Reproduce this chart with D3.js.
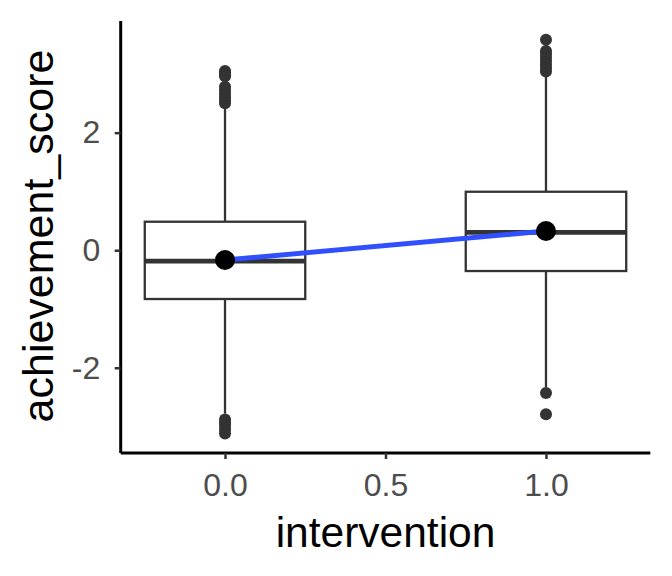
<html>
<head>
<meta charset="utf-8">
<script src="https://cdn.jsdelivr.net/npm/d3@7"></script>
<style>
  body { margin: 0; background: #fff; }
  text { font-family: "Liberation Sans", Arial, sans-serif; }
</style>
</head>
<body>
<script>

// data
var groups     = [0, 1];
var q1         = [-0.83, -0.354];
var medians    = [-0.184, 0.305];
var q3         = [0.485, 0.995];
var whiskLow   = [-2.78, -2.33];
var whiskHigh  = [2.47, 2.99];
var means      = [-0.167, 0.327];
var outliers0  = [3.05, 3.02, 2.99, 2.96, 2.78, 2.72, 2.66, 2.60, 2.55, 2.50, -2.88, -2.93, -2.98, -3.05, -3.12];
var outliers1  = [3.58, 3.39, 3.34, 3.28, 3.22, 3.16, 3.10, 3.04, -2.43, -2.79];
var xTicks     = [0, 0.5, 1];
var yTicks     = [-2, 0, 2];

// view
var W = 672, H = 576;
var BOX_W = 0.5;

var svg = d3.select("body").append("svg")
  .attr("width", W)
  .attr("height", H);

var x = d3.scaleLinear().domain([-0.325, 1.325]).range([120.7, 650.3]);
var y = d3.scaleLinear().domain([-3.45, 3.90]).range([453, 21]);

var boxes = groups.map(function(g, i) {
  return { g: g, q1: q1[i], med: medians[i], q3: q3[i],
           lo: whiskLow[i], hi: whiskHigh[i], mean: means[i],
           out: i == 0 ? outliers0 : outliers1 };
});

// whiskers
svg.selectAll("line.whisk-up")
  .data(boxes).enter().append("line")
  .attr("x1", function(d) { return x(d.g); })
  .attr("x2", function(d) { return x(d.g); })
  .attr("y1", function(d) { return y(d.q3); })
  .attr("y2", function(d) { return y(d.hi); })
  .attr("stroke", "#333").attr("stroke-width", 2.3);

svg.selectAll("line.whisk-down")
  .data(boxes).enter().append("line")
  .attr("x1", function(d) { return x(d.g); })
  .attr("x2", function(d) { return x(d.g); })
  .attr("y1", function(d) { return y(d.q1); })
  .attr("y2", function(d) { return y(d.lo); })
  .attr("stroke", "#333").attr("stroke-width", 2.3);

// outliers
boxes.forEach(function(b) {
  svg.selectAll(null)
    .data(b.out).enter().append("circle")
    .attr("cx", x(b.g))
    .attr("cy", function(v) { return y(v); })
    .attr("r", 6)
    .attr("fill", "#333");
});

// boxes
svg.selectAll("rect.box")
  .data(boxes).enter().append("rect")
  .attr("x", function(d) { return x(d.g - BOX_W / 2); })
  .attr("width", function(d) { return x(d.g + BOX_W / 2) - x(d.g - BOX_W / 2); })
  .attr("y", function(d) { return y(d.q3); })
  .attr("height", function(d) { return y(d.q1) - y(d.q3); })
  .attr("fill", "#fff")
  .attr("stroke", "#333").attr("stroke-width", 2.3);

svg.selectAll("line.median")
  .data(boxes).enter().append("line")
  .attr("x1", function(d) { return x(d.g - BOX_W / 2); })
  .attr("x2", function(d) { return x(d.g + BOX_W / 2); })
  .attr("y1", function(d) { return y(d.med); })
  .attr("y2", function(d) { return y(d.med); })
  .attr("stroke", "#333").attr("stroke-width", 4.7);

// mean line + points
svg.append("path")
  .datum(boxes)
  .attr("d", d3.line()
    .x(function(d) { return x(d.g); })
    .y(function(d) { return y(d.mean); }))
  .attr("fill", "none")
  .attr("stroke", "#3050FF")
  .attr("stroke-width", 5);

svg.selectAll("circle.mean")
  .data(boxes).enter().append("circle")
  .attr("cx", function(d) { return x(d.g); })
  .attr("cy", function(d) { return y(d.mean); })
  .attr("r", 10)
  .attr("fill", "#000");

// axes
var xAxis = svg.append("g")
  .attr("transform", "translate(0," + 453 + ")")
  .call(d3.axisBottom(x).tickValues(xTicks).tickFormat(d3.format(".1f")).tickSize(6).tickPadding(14));

var yAxis = svg.append("g")
  .attr("transform", "translate(" + 120.7 + ",0)")
  .call(d3.axisLeft(y).tickValues(yTicks).tickFormat(function(d) { return d; }).tickSize(6).tickPadding(14.5));

[xAxis, yAxis].forEach(function(a) {
  a.select(".domain").attr("stroke", "#000").attr("stroke-width", 3);
  a.selectAll(".tick line").attr("stroke", "#333").attr("stroke-width", 2.5);
  a.selectAll(".tick text")
    .attr("fill", "#4d4d4d")
    .style("font-size", "32px");
});
xAxis.select(".domain").attr("d", "M120.7,0H650.3");
yAxis.select(".domain").attr("d", "M0,21V453");

// titles
svg.append("text")
  .attr("x", x(0.5))
  .attr("y", 547)
  .attr("text-anchor", "middle")
  .style("font-size", "42.5px")
  .attr("fill", "#000")
  .text("intervention");

svg.append("text")
  .attr("transform", "translate(53," + 236 + ") rotate(-90)")
  .attr("text-anchor", "middle")
  .style("font-size", "43px")
  .attr("fill", "#000")
  .text("achievement_score");

</script>
</body>
</html>
